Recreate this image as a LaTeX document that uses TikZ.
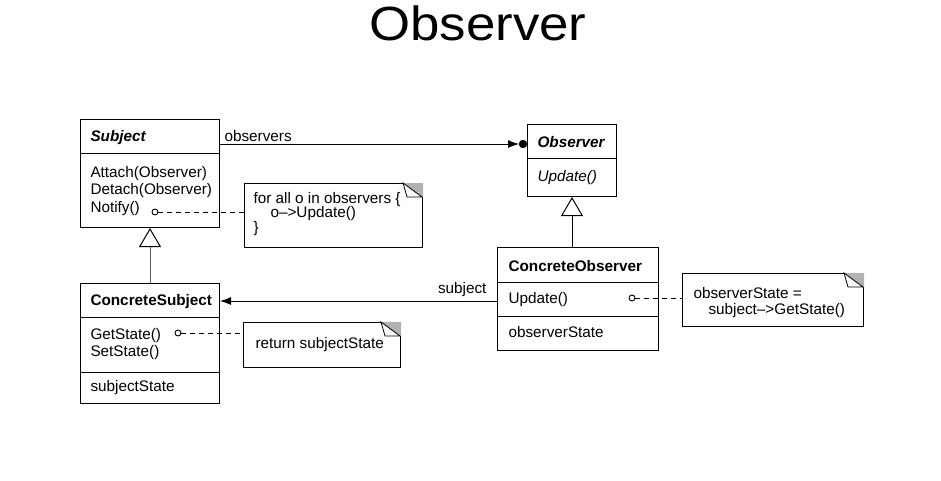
\documentclass[tikz,border=0pt]{standalone}
\usepackage{fontspec}
\setmainfont{Liberation Sans}
\usetikzlibrary{arrows.meta,calc}

\begin{document}
\begin{tikzpicture}[x=1pt,y=-1pt,
  line width=1pt,
  font=\fontsize{15.3}{17}\selectfont,
  classbox/.style={draw, rectangle, anchor=north west, inner sep=0pt},
  notebox/.style={draw, rectangle, anchor=north west, inner sep=0pt},
  member/.style={anchor=base west, inner sep=0pt},
  pin/.style={draw, fill=white, circle, inner sep=0pt, minimum size=6pt, line width=0.9pt},
  link/.style={dashed, dash pattern=on 5pt off 4pt, line width=0.9pt},
  inherit/.style={-{Triangle[open, length=19pt, width=22pt, fill=white]}},
  assoc/.style={-{Latex[length=11pt, width=8pt]}},
]
\useasboundingbox (0,0) rectangle (941,480);

% title
\node[font=\fontsize{48}{56}\selectfont, anchor=base] (title) at (478,40) {\scalebox{1.1}[1]{Observer}};

% ---------- Subject ----------
\node[classbox, minimum width=139pt, minimum height=108pt] (subject) at (80,119) {};
\draw (80,153) -- (219,153);
\node[member] (subjname) at (90,141) {\textbf{\textit{Subject}}};
\node[member] (attach) at (90,177) {Attach(Observer)};
\node[member] (detach) at (90,194) {Detach(Observer)};
\node[member] (notify) at (90,212) {Notify()};

% ---------- ConcreteSubject ----------
\node[classbox, minimum width=139pt, minimum height=120pt] (csubject) at (80,283) {};
\draw (80,317) -- (219,317);
\draw (80,372) -- (219,372);
\node[member] (csname) at (90,305) {\textbf{ConcreteSubject}};
\node[member] (getstate) at (90,339) {GetState()};
\node[member] (setstate) at (90,356) {SetState()};
\node[member] (sstate) at (90,391) {subjectState};

% ---------- Observer ----------
\node[classbox, minimum width=89pt, minimum height=72pt] (observer) at (527,124) {};
\draw (527,158) -- (616,158);
\node[member] (obsname) at (537,147) {\textbf{\textit{Observer}}};
\node[member] (obsupdate) at (537,181) {\textit{Update()}};

% ---------- ConcreteObserver ----------
\node[classbox, minimum width=161pt, minimum height=103pt] (cobserver) at (497,247) {};
\draw (497,282) -- (658,282);
\draw (497,316) -- (658,316);
\node[member] (coname) at (508,271) {\textbf{ConcreteObserver}};
\node[member] (coupdate) at (508,303) {Update()};
\node[member] (ostate) at (508,337) {observerState};

% ---------- notes ----------
\node[notebox, minimum width=178pt, minimum height=64pt] (note1) at (244,183) {};
\node[member] (note1a) at (253,203) {for all o in observers \{};
\node[member] (note1b) at (270,217) {o–>Update()};
\node[member] (note1c) at (253,232) {\}};

\node[notebox, minimum width=157pt, minimum height=45pt] (note2) at (243,322) {};
\node[member] (note2txt) at (255,348) {return subjectState};

\node[notebox, minimum width=181pt, minimum height=53pt] (note3) at (682,273) {};
\node[member] (note3a) at (693,298) {observerState =};
\node[member] (note3b) at (708,314) {subject–>GetState()};

% dog-eared corners
\foreach \n in {note1,note2,note3}{
  \fill[gray!60] (\n.north east) -- ++(-20,0) -- ++(18,14) -- ++(2,0) -- cycle;
  \draw[fill=white, line width=0.8pt] ($(\n.north east)+(-20,0)$) -- ++(19,14) -- ++(-15,0) -- cycle;
}

% ---------- pins and dashed links to notes ----------
\node[pin] (pin1) at (155,212) {};
\draw[link] (pin1.east) -- (pin1.east -| note1.west);
\node[pin] (pin2) at (178,333) {};
\draw[link] (pin2.east) -- (pin2.east -| note2.west);
\node[pin] (pin3) at (632,298) {};
\draw[link] (pin3.east) -- (pin3.east -| note3.west);

% ---------- observers association ----------
\coordinate (obsfrom) at (subject.north east |- 0,144);
\coordinate (obsto) at (observer.north west |- 0,144);
\draw[-{Latex[length=11pt, width=8pt]}] (obsfrom) -- ($(obsto)+(-8,0)$);
\fill (obsto) ++(-4,0) circle (4.2pt);
\node[anchor=base west, inner sep=0pt] (obslabel) at (224,141) {observers};

% ---------- subject association ----------
\coordinate (subjfrom) at (cobserver.north west |- 0,301);
\coordinate (subjto) at (csubject.north east |- 0,301);
\draw[assoc] (subjfrom) -- (subjto);
\node[anchor=base east, inner sep=0pt] (subjlabel) at (487,293) {subject};

% ---------- generalizations ----------
\draw[inherit] (csubject.north) -- ($(subject.south)+(0,15)$) -- (subject.south);
\draw[inherit] (cobserver.north -| observer.south) -- (observer.south);
\end{tikzpicture}
\end{document}
